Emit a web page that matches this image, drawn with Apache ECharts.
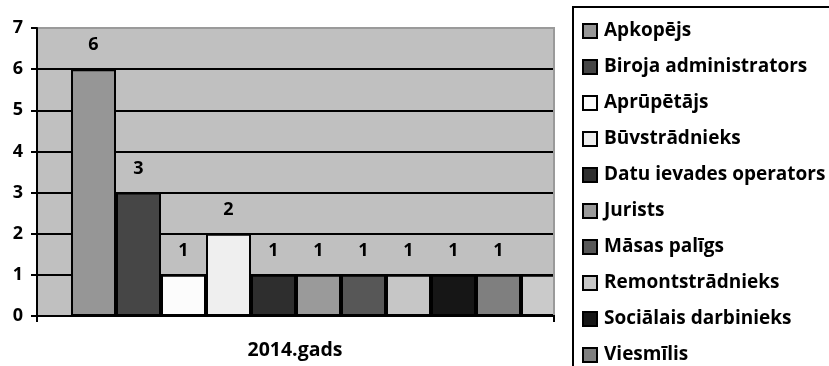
<!DOCTYPE html>
<html>
<head>
<meta charset="utf-8">
<script src="https://cdn.jsdelivr.net/npm/echarts@6/dist/echarts.min.js"></script>
<style>
  html, body { margin: 0; padding: 0; background: #fff; }
  #chart { width: 829px; height: 366px; }
</style>
</head>
<body>
<div id="chart"></div>
<script>
// Employees by occupation, year 2014
const categories = ['2014.gads'];
const occupations = [
  'Apkopējs', 'Biroja administrators', 'Aprūpētājs', 'Būvstrādnieks',
  'Datu ievades operators', 'Jurists', 'Māsas palīgs', 'Remontstrādnieks',
  'Sociālais darbinieks', 'Viesmīlis', ''
];
const counts = [6, 3, 1, 2, 1, 1, 1, 1, 1, 1, 1];
const fills = [
  '#969696', '#464646', '#fcfcfc', '#efefef', '#2e2e2e',
  '#9a9a9a', '#575757', '#c6c6c6', '#161616', '#7f7f7f', '#cacaca'
];
const yTicks = [0, 1, 2, 3, 4, 5, 6, 7];

const FONT = '"Open Sans"';

const series = occupations.map((name, i) => ({
  name: name || 'Cits',
  type: 'bar',
  barWidth: 45,
  barGap: '0%',
  data: [counts[i]],
  itemStyle: { color: fills[i], borderColor: '#000', borderWidth: 2 },
  label: {
    show: name !== '',
    position: 'top',
    distance: 15,
    color: '#000',
    fontFamily: FONT,
    fontWeight: 'bold',
    fontSize: 18
  },
  z: 3
}));

const chart = echarts.init(document.getElementById('chart'), null, { renderer: 'canvas' });
chart.setOption({
  backgroundColor: '#ffffff',
  animation: false,
  grid: {
    left: 37, right: 229, top: 28, bottom: 50,
    show: true, backgroundColor: '#c0c0c0', borderWidth: 0
  },
  xAxis: {
    type: 'category',
    data: categories,
    axisLine: { show: true, lineStyle: { color: '#000', width: 2 } },
    axisTick: { show: true, length: 6, lineStyle: { color: '#000', width: 2 } },
    axisLabel: {
      color: '#000', fontFamily: FONT, fontWeight: 'bold', fontSize: 19.5,
      margin: 24, padding: [0, 47, 0, 0]
    }
  },
  yAxis: {
    type: 'value',
    min: yTicks[0],
    max: yTicks[yTicks.length - 1],
    interval: 1,
    axisLine: { show: true, lineStyle: { color: '#000', width: 2 } },
    axisTick: { show: true, length: 6, lineStyle: { color: '#000', width: 2 } },
    axisLabel: {
      color: '#000', fontFamily: FONT, fontWeight: 'bold', fontSize: 18, margin: 14
    },
    splitLine: {
      show: true,
      lineStyle: {
        color: ['#000', '#000', '#000', '#000', '#000', '#000', '#000', '#9a9a9a'],
        width: 2
      }
    }
  },
  legend: {
    data: occupations.filter(n => n !== ''),
    orient: 'vertical',
    left: 582,
    top: 20,
    height: 600,
    padding: 0,
    itemWidth: 14,
    itemHeight: 14,
    itemGap: 14,
    icon: 'rect',
    textStyle: {
      color: '#000', fontFamily: FONT, fontWeight: 'bold', fontSize: 19,
      lineHeight: 22, padding: [0, 0, 0, 2]
    },
    z: 20
  },
  graphic: [
    // white margin right of the plot area
    { type: 'rect', z: 10, shape: { x: 555, y: 0, width: 274, height: 366 },
      style: { fill: '#fff' } },
    // right edge of the plot area and its closing tick
    { type: 'line', z: 11, shape: { x1: 554, y1: 28, x2: 554, y2: 316 },
      style: { stroke: '#9a9a9a', lineWidth: 2 } },
    { type: 'line', z: 11, shape: { x1: 554, y1: 315, x2: 554, y2: 322 },
      style: { stroke: '#000', lineWidth: 2 } },
    // legend frame
    { type: 'rect', z: 11, shape: { x: 573, y: 7, width: 300, height: 400 },
      style: { fill: '#fff', stroke: '#000', lineWidth: 2 } }
  ],
  series: series
});
</script>
</body>
</html>
